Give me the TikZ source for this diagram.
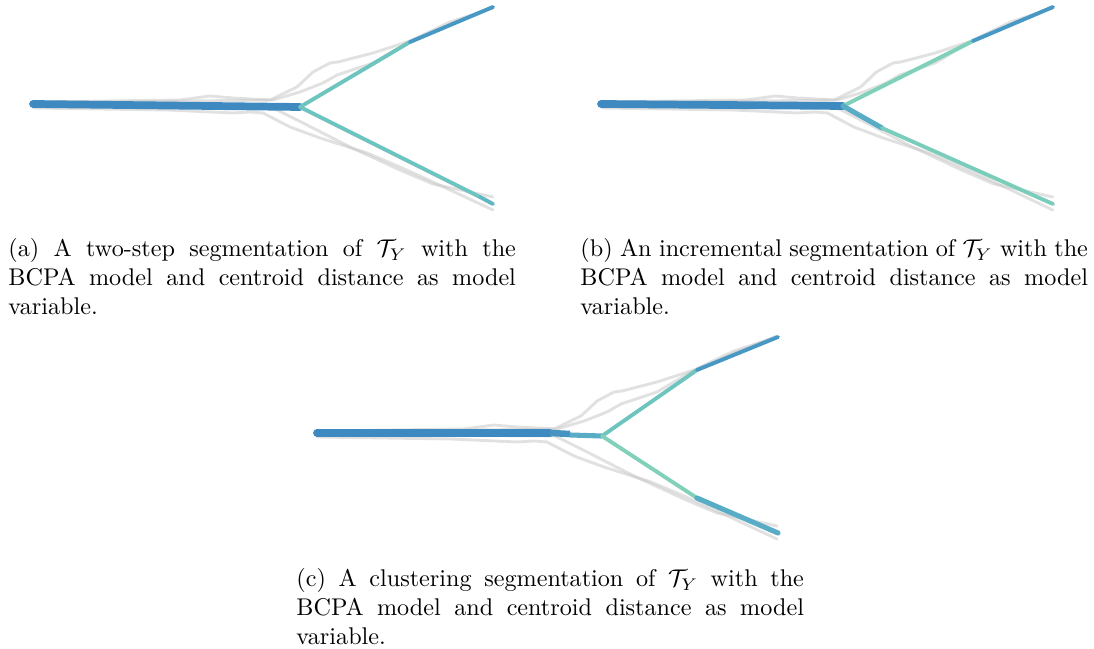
\documentclass[tikz,border=0pt]{standalone}
\definecolor{trunkblue}{RGB}{62,138,192}
\definecolor{tipblue}{RGB}{72,152,198}
\definecolor{midblue}{RGB}{88,172,198}
\definecolor{segteal}{RGB}{110,196,190}
\definecolor{segmint}{RGB}{128,208,186}
\definecolor{trackgrey}{RGB}{196,196,196}
\begin{document}
\begin{tikzpicture}[x=0.4138pt, y=-0.4138pt,
    trunk/.style={line width=3.2pt, trunkblue, line cap=round},
    seg/.style={line width=1.6pt, line cap=round, line join=round},
    greytrack/.style={line width=1.2pt, trackgrey, opacity=0.5,
      line cap=round, line join=round},
    capt/.style={anchor=north west, inner sep=0pt, text width=210pt,
      align=justify},
    tracks/.pic={
      \draw[greytrack] (2,-2) -- (149,-4) -- (179,-8) -- (202,-6) -- (239,-4)
        -- (266,-17) -- (282,-32) -- (299,-41) -- (307,-42) -- (342,-51)
        -- (379,-63) -- (419,-82) -- (462,-96);
      \draw[greytrack] (2,-1) -- (242,-4) -- (269,-12) -- (292,-21)
        -- (306,-29) -- (342,-41) -- (376,-61) -- (419,-80) -- (462,-97);
      \draw[greytrack] (2,4) -- (136,6) -- (202,9) -- (219,8) -- (232,9)
        -- (259,23) -- (289,34) -- (336,49) -- (369,63) -- (402,78)
        -- (462,106);
      \draw[greytrack] (2,2) -- (240,3) -- (276,21) -- (319,43) -- (369,66)
        -- (402,80) -- (462,93);
    }
  ]
  \useasboundingbox (0,0) rectangle (1094,649);

  % (a) two-step segmentation
  \pic at (31,104) {tracks};
  \draw[trunk] (33,104) -- (300,107);
  \draw[seg, segteal] (300,107) -- (410,42);
  \draw[seg, tipblue] (410,42) -- (493,7);
  \draw[seg, segteal] (300,107) -- (480,197);
  \draw[seg, midblue!60!segteal] (480,197) -- (493,204);
  \node[capt] (capA) at (8,238)
    {(a) A two-step segmentation of $\mathcal{T}_Y$ with the BCPA model
     and centroid distance as model variable.};

  % (b) incremental segmentation
  \pic[xscale=0.98] at (600,104) {tracks};
  \draw[trunk] (601,104) -- (843,106);
  \draw[seg, segmint] (843,106) -- (973,41);
  \draw[seg, tipblue] (973,41) -- (1053,7);
  \draw[seg, midblue, line width=2.1pt] (843,106) -- (882,128);
  \draw[seg, segmint!70!segteal] (882,128) -- (1053,204);
  \node[capt] (capB) at (580,238)
    {(b) An incremental segmentation of $\mathcal{T}_Y$ with the BCPA model
     and centroid distance as model variable.};

  % (c) clustering segmentation
  \pic at (315,433) {tracks};
  \draw[trunk] (317,433) -- (550,433);
  \draw[trunk, line width=2.7pt, line cap=butt, trunkblue!70!midblue]
    (550,433) -- (570,434);
  \draw[seg, midblue, line width=2.1pt, line cap=butt] (570,435) -- (602,436);
  \draw[seg, segteal] (602,436) -- (697,370);
  \draw[seg, tipblue] (697,370) -- (778,337);
  \draw[seg, segmint] (602,436) -- (697,498);
  \draw[seg, midblue, line width=2.1pt] (697,498) -- (778,533);
  \node[capt] (capC) at (296,568)
    {(c) A clustering segmentation of $\mathcal{T}_Y$ with the BCPA model
     and centroid distance as model variable.};
\end{tikzpicture}
\end{document}
